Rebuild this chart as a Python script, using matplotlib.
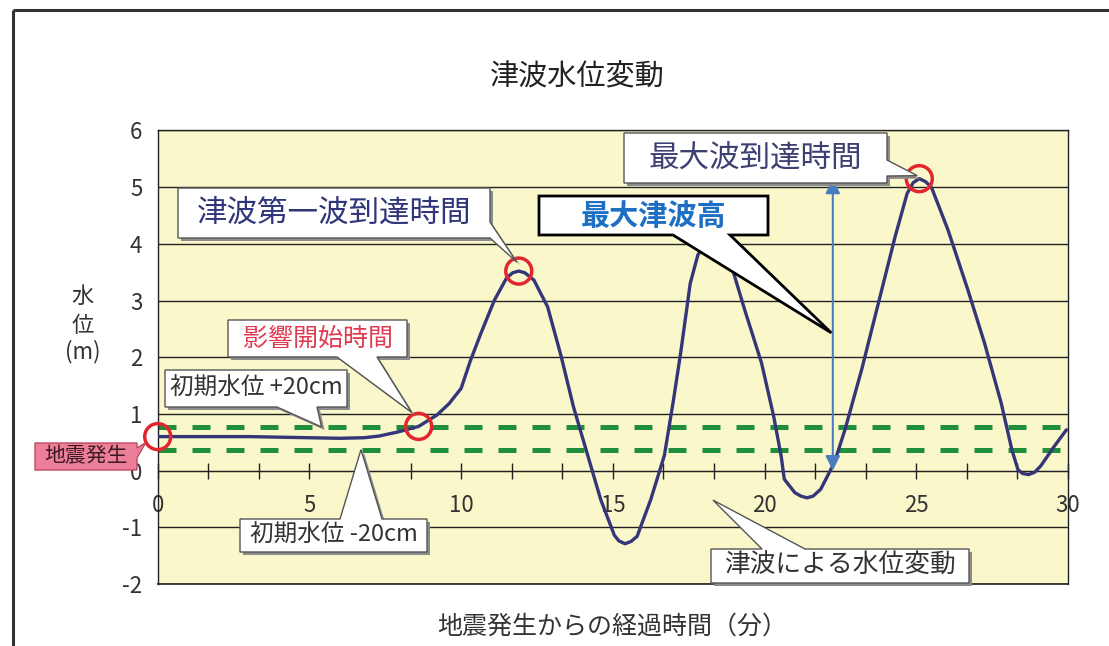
import matplotlib as mpl
import matplotlib.pyplot as plt
import matplotlib.patches as mpatches
from matplotlib.ticker import MultipleLocator

mpl.rcParams.update({
    "font.family": ["Noto Sans CJK JP", "DejaVu Sans"],
    "axes.unicode_minus": False,
})

# --- water level record: minutes after the quake vs level (m) ---
minutes = [0.0, 1.0, 2.0, 3.0, 4.0, 5.0, 6.0, 6.8, 7.3, 7.9,
           8.6, 9.2, 9.6, 10.0, 10.3, 10.65, 11.1, 11.5, 11.7, 11.9,
           12.1, 12.4, 12.85, 13.3, 13.7, 14.15, 14.6, 15.05, 15.2, 15.4,
           15.6, 15.8, 16.25, 16.7, 17.0, 17.25, 17.55, 17.8, 17.95, 18.25,
           18.55, 18.75, 18.95, 19.35, 19.9, 20.3, 20.55, 20.65, 21.0, 21.2,
           21.4, 21.6, 21.85, 22.3, 22.65, 23.2, 23.75, 24.3, 24.7, 24.9,
           25.1, 25.3, 25.5, 26.05, 26.7, 27.25, 27.8, 28.15, 28.35, 28.5,
           28.7, 28.9, 29.1, 29.55, 29.95]
level_m = [0.60, 0.60, 0.60, 0.60, 0.59, 0.58, 0.57, 0.58, 0.61, 0.68,
           0.78, 0.98, 1.18, 1.45, 1.93, 2.42, 3.01, 3.40, 3.49, 3.52,
           3.49, 3.36, 2.89, 2.01, 1.13, 0.31, -0.51, -1.14, -1.24, -1.29,
           -1.25, -1.16, -0.51, 0.27, 1.25, 2.13, 3.30, 3.80, 3.94, 4.02,
           3.94, 3.76, 3.54, 2.83, 1.90, 0.96, 0.25, -0.15, -0.39, -0.45,
           -0.48, -0.45, -0.33, 0.14, 0.72, 1.78, 2.95, 4.12, 4.89, 5.08,
           5.15, 5.10, 5.00, 4.24, 3.19, 2.25, 1.19, 0.37, 0.02, -0.05,
           -0.07, -0.03, 0.08, 0.43, 0.72]

initial_level = 0.57
band_offset = 0.20          # +/- 20 cm

# circled moments: quake, impact start, first wave, maximum wave
event_minutes = [0.0, 8.6, 11.9, 25.1]
event_levels = [0.60, 0.78, 3.52, 5.15]

max_wave_minute = 22.25     # where the max-height arrow is drawn

x_ticks = [0, 5, 10, 15, 20, 25, 30]
y_ticks = [-2, -1, 0, 1, 2, 3, 4, 5, 6]

W, H = 1109, 646
fig = plt.figure(figsize=(W / 100, H / 100), dpi=100)
fig.patch.set_facecolor("white")

ax = fig.add_axes([0.1422, 0.0960, 0.8208, 0.7020])
ax.set_facecolor("#faf7ca")
ax.set_xlim(0, 30)
ax.set_ylim(-2, 6)

ax.set_yticks(y_ticks)
ax.set_xticks(x_ticks)
ax.xaxis.set_minor_locator(MultipleLocator(5 / 3))
ax.grid(axis="y", color="#222222", lw=1.0, zorder=1)
ax.set_axisbelow(True)

for s in ["left", "right", "top"]:
    ax.spines[s].set_color("#222222")
    ax.spines[s].set_linewidth(1.0)
ax.spines["bottom"].set_position(("data", 0))
ax.spines["bottom"].set_color("#222222")
ax.axhline(-2, color="#222222", lw=1.2, clip_on=False, zorder=1)

ax.tick_params(axis="x", which="both", direction="inout", length=12,
               width=1.0, color="#222222")
ax.tick_params(axis="x", which="major", pad=11, labelsize=16,
               labelcolor="#333333")
ax.tick_params(axis="y", length=0, pad=11, labelsize=16,
               labelcolor="#333333")

# +/- 20 cm band around the initial level
for lv in (initial_level + band_offset, initial_level - band_offset):
    ax.hlines(lv, 0, 30, colors="#1f8f3b", lw=3.6,
              linestyles=(0, (3.6, 3.2)), zorder=2)

# water level curve
ax.plot(minutes, level_m, color="#35357a", lw=2.4, zorder=3,
        solid_capstyle="round", solid_joinstyle="round")

# circled moments
ax.scatter(event_minutes, event_levels, s=350, facecolor="none",
           edgecolor="#e3262d", linewidth=2.5, zorder=4, clip_on=False)

# maximum tsunami height arrow
ax.annotate("", xy=(max_wave_minute, max(level_m)),
            xytext=(max_wave_minute, 0),
            arrowprops=dict(arrowstyle="<|-|>", color="#4a7dbf", lw=1.5,
                            mutation_scale=22, shrinkA=0, shrinkB=0),
            zorder=6)

# overlay in pixel units for titles and callouts
ov = fig.add_axes([0, 0, 1, 1], zorder=5)
ov.set_xlim(0, W)
ov.set_ylim(H, 0)
ov.set_axis_off()


def to_px(x, y):
    dx, dy = ax.transData.transform((x, y))
    return dx, H - dy


def callout(box, side, base, tip, text, color, size, weight="normal",
            face="white", edge="#555555", lw=1.0, shadow=True):
    x0, y0, x1, y1 = box
    b0, b1 = base
    tx, ty = tip
    if side == "bottom":
        pts = [(x0, y0), (x1, y0), (x1, y1), (b1, y1), (tx, ty), (b0, y1), (x0, y1)]
    elif side == "top":
        pts = [(x0, y0), (b0, y0), (tx, ty), (b1, y0), (x1, y0), (x1, y1), (x0, y1)]
    else:  # right
        pts = [(x0, y0), (x1, y0), (x1, b0), (tx, ty), (x1, b1), (x1, y1), (x0, y1)]
    if shadow:
        sh = [(px + 3, py + 3) for px, py in pts]
        ov.add_patch(mpatches.Polygon(sh, closed=True, fc="#8c8c8c",
                                      ec="none", zorder=2))
    ov.add_patch(mpatches.Polygon(pts, closed=True, fc=face, ec=edge, lw=lw,
                                  joinstyle="miter", zorder=3))
    ov.text((x0 + x1) / 2, (y0 + y1) / 2, text, ha="center", va="center",
            fontsize=size, color=color, fontweight=weight, zorder=4)


c1 = to_px(event_minutes[0], event_levels[0])
c2 = to_px(event_minutes[1], event_levels[1])
c3 = to_px(event_minutes[2], event_levels[2])
c4 = to_px(event_minutes[3], event_levels[3])

callout((178, 188, 490, 238), "right", (222, 238), (c3[0] - 2, c3[1] - 9),
        "津波第一波到達時間", "#30367a", 22)
callout((228, 320, 407, 357), "bottom", (337, 377), (c2[0] - 7, c2[1] - 14),
        "影響開始時間", "#e23a50", 18)
callout((165, 370, 347, 407), "bottom", (277, 317),
        to_px(5.4, initial_level + band_offset),
        "初期水位 +20cm", "#333333", 17)
callout((240, 519, 427, 552), "top", (340, 382),
        to_px(6.7, initial_level - band_offset),
        "初期水位 -20cm", "#333333", 17)
callout((711, 549, 969, 583), "top", (762, 805), to_px(18.3, -0.52),
        "津波による水位変動", "#333333", 18.5)
callout((624, 133, 887, 183), "right", (160, 176), (c4[0] - 2, c4[1] - 3),
        "最大波到達時間", "#3c4072", 22)
callout((539, 196, 768, 235), "bottom", (673, 730),
        to_px(max_wave_minute - 0.05, 2.43),
        "最大津波高", "#1d6fc4", 21, weight="bold",
        edge="black", lw=2.0, shadow=False)
callout((35, 443, 137, 470), "right", (448, 458), (c1[0] - 12, c1[1] + 6),
        "地震発生", "#3a1a25", 15, face="#ee7f98", edge="#c04862",
        shadow=False)

# titles
ov.text(577, 77, "津波水位変動", ha="center", va="center", fontsize=21,
        color="#222222")
ov.text(612, 627, "地震発生からの経過時間（分）", ha="center", va="center",
        fontsize=18, color="#333333")
for ch, yy in zip(["水", "位", "(m)"], [296, 325, 352]):
    ov.text(83, yy, ch, ha="center", va="center", fontsize=16,
            color="#333333")

# outer frame
ov.plot([13, 13], [H, 10], color="#333333", lw=2.2, solid_capstyle="butt")
ov.plot([13, W], [10, 10], color="#333333", lw=2.2, solid_capstyle="butt")

fig.savefig("out.png", dpi=100)
